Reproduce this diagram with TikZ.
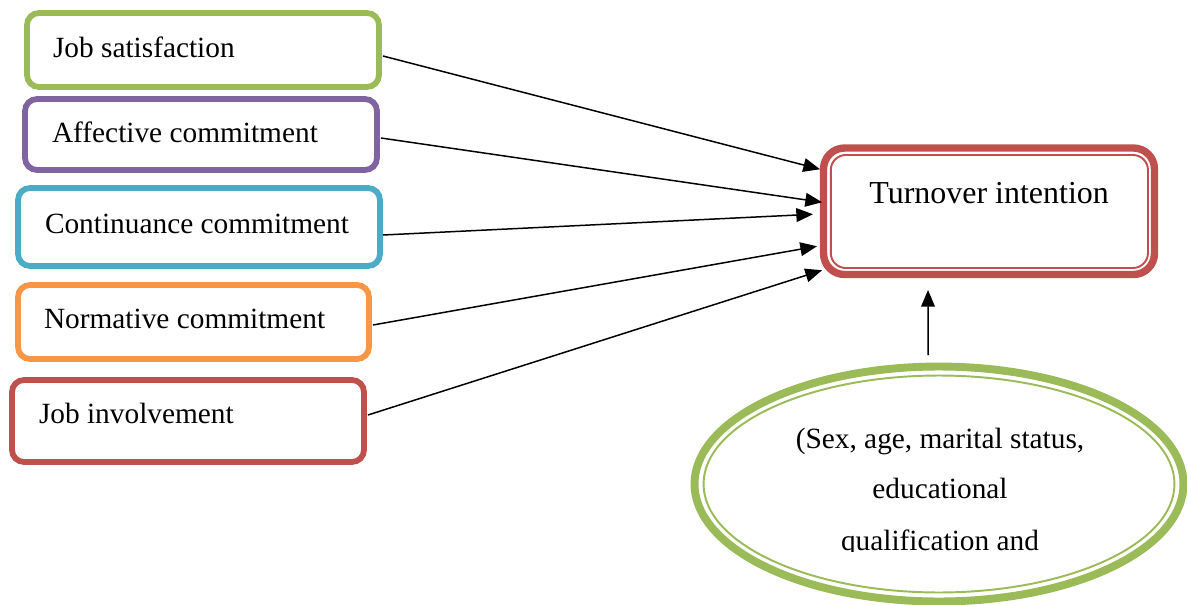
\documentclass[tikz,border=0pt]{standalone}
\usepackage{fontspec}
\setmainfont{Liberation Serif}
\usetikzlibrary{arrows.meta,shapes.geometric}
\definecolor{cgreen}{HTML}{9BBB59}
\definecolor{cpurple}{HTML}{8064A2}
\definecolor{cteal}{HTML}{4BACC6}
\definecolor{corange}{HTML}{F79646}
\definecolor{cred}{HTML}{C0504D}
\tikzset{
  boxframe/.style={draw=#1, line width=3.3pt, rounded corners=0.24cm, inner sep=0pt, outer sep=0pt, fill=white},
  lbl/.style={inner sep=0pt, outer sep=0pt, anchor=base west, font=\fontsize{16.7}{20}\selectfont},
  clbl/.style={inner sep=0pt, outer sep=0pt, anchor=base, font=\fontsize{16.7}{20}\selectfont},
  arr/.style={-{Triangle[length=9.5pt,width=7.8pt]}, line width=0.85pt, black},
}
\begin{document}
\begin{tikzpicture}[x=0.02cm,y=-0.02cm]
\useasboundingbox (0,0) rectangle (1187,605);
% left boxes
\node[boxframe=cgreen, minimum width=7.04cm, minimum height=1.48cm] (js) at (203,50) {};
\node[boxframe=cpurple, minimum width=7.04cm, minimum height=1.42cm] (ac) at (201,134.5) {};
\node[boxframe=cteal, minimum width=7.24cm, minimum height=1.56cm] (cc) at (199,227) {};
\node[boxframe=corange, minimum width=7.02cm, minimum height=1.48cm] (nc) at (193.5,322) {};
\node[boxframe=cred, minimum width=7.04cm, minimum height=1.64cm] (ji) at (188,421) {};
\node[lbl] (jsl) at (53,57) {Job satisfaction};
\node[lbl] (acl) at (52,142) {Affective commitment};
\node[lbl] (ccl) at (45,233) {Continuance commitment};
\node[lbl] (ncl) at (44,328) {Normative commitment};
\node[lbl] (jil) at (39,423) {Job involvement};
% turnover box
\node[draw=cred, line width=4.2pt, rounded corners=0.42cm, inner sep=0pt, outer sep=0pt,
      minimum width=6.62cm, minimum height=2.53cm] (tn) at (989,211.25) {};
\draw[cred, line width=1.1pt, rounded corners=0.3cm]
  ([shift={(0.145cm,-0.14cm)}]tn.north west) rectangle ([shift={(-0.13cm,0.13cm)}]tn.south east);
\node[inner sep=0pt, anchor=base west, font=\fontsize{18.2}{22}\selectfont] (tnl) at (869,203) {Turnover intention};
% ellipse
\node[ellipse, draw=cgreen, line width=4.5pt, inner sep=0pt, outer sep=0pt,
      minimum width=9.78cm, minimum height=4.7cm] (ell) at (939,484) {};
\draw[cgreen, line width=1.1pt] (ell.center) ellipse [x radius=4.71cm, y radius=2.17cm];
\node[clbl] (e1) at (940,448) {(Sex, age, marital status,};
\node[clbl] (e2) at (940,498) {educational};
\begin{scope}
  \clip (780,520) rectangle (1100,551);
  \node[clbl] (e3) at (940,550) {qualification and};
\end{scope}
% arrows
\draw[arr] ([shift={(0.08cm,-0.12cm)}]js.east) -- ([shift={(-0.07cm,0.84cm)}]tn.west);
\draw[arr] ([shift={(0.08cm,-0.07cm)}]ac.east) -- ([shift={(-0.03cm,0.18cm)}]tn.west);
\draw[arr] ([shift={(0.06cm,-0.16cm)}]cc.east) -- ([shift={(-0.21cm,-0.06cm)}]tn.west);
\draw[arr] ([shift={(0.08cm,-0.06cm)}]nc.east) -- ([shift={(-0.13cm,-0.70cm)}]tn.west);
\draw[arr] ([shift={(0.08cm,0.12cm)}]ji.east) -- ([shift={(-0.03cm,-1.18cm)}]tn.west);
\draw[arr] ([shift={(-0.22cm,0.23cm)}]ell.north) -- ([shift={(-1.22cm,-0.31cm)}]tn.south);
\end{tikzpicture}
\end{document}
